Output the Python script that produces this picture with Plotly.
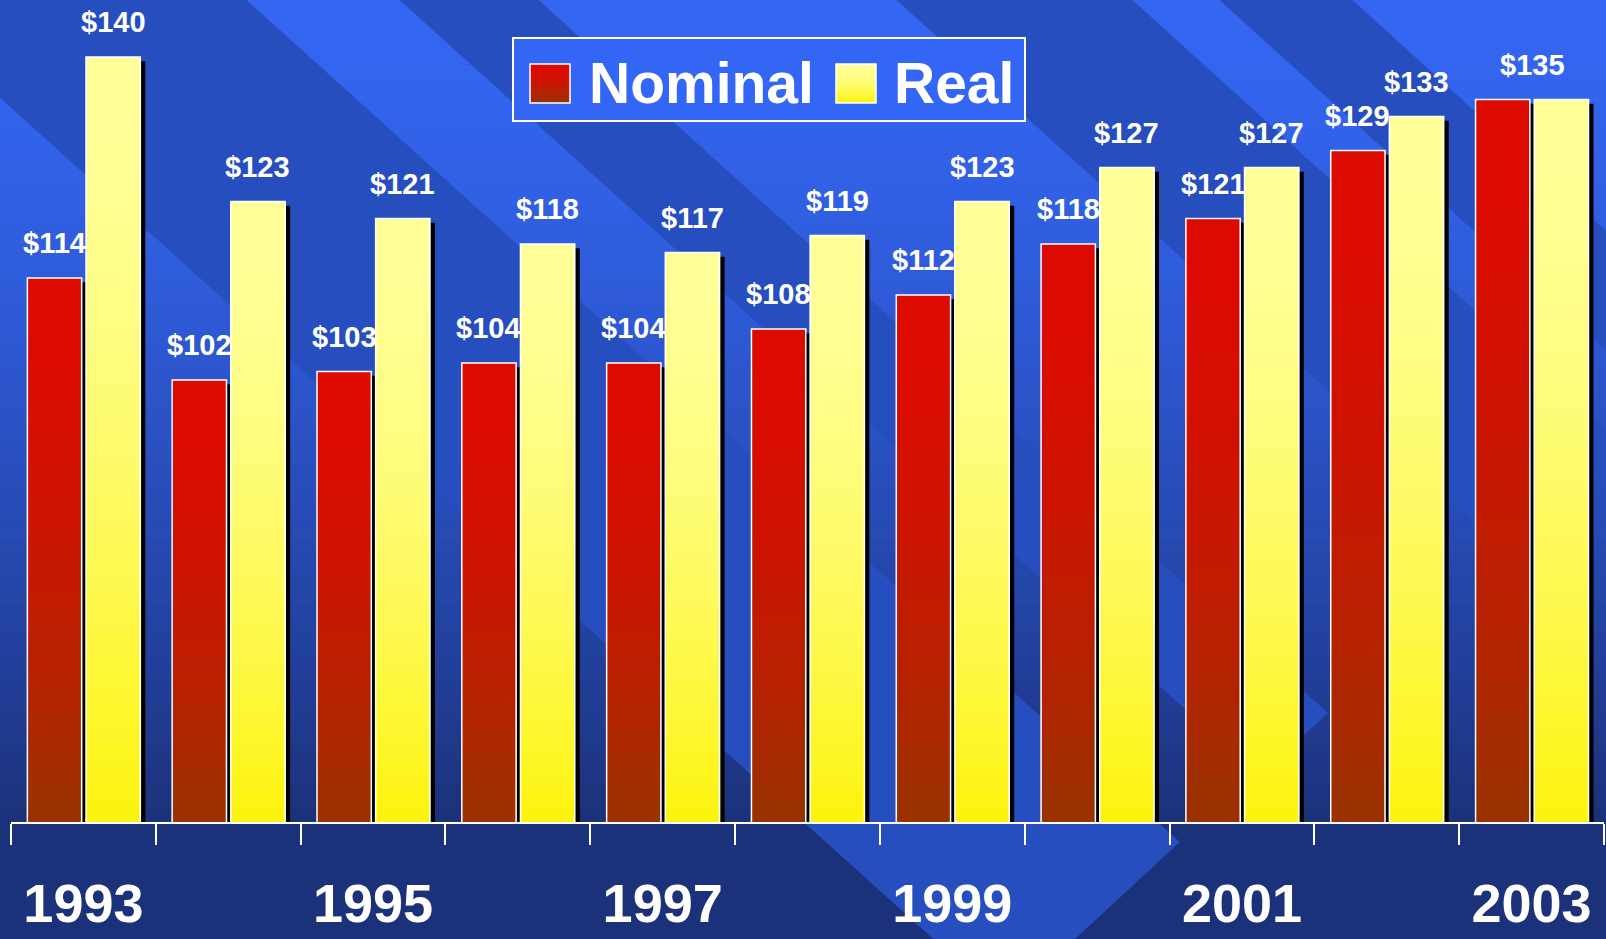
import plotly.graph_objects as go

# ---------------- data ----------------
years = [1993, 1994, 1995, 1996, 1997, 1998, 1999, 2000, 2001, 2002, 2003]
nominal = [114, 102, 103, 104, 104, 108, 112, 118, 121, 129, 135]
real = [140, 123, 121, 118, 117, 119, 123, 127, 127, 133, 135]
tick_years = [1993, 1995, 1997, 1999, 2001, 2003]
tick_labels = ["1993", "1995", "1997", "1999", "2001", "2003"]
series_names = ["Nominal", "Real"]

# ---------------- layout constants ----------------
W, H = 1606, 939
ML, MR, MT, MB = 11, 2, 0, 117
PW, PH = W - ML - MR, H - MT - MB
Y_MIN, Y_MAX = 50, 50 + PH / 8.5
FONT = "Liberation Sans, Arial, Helvetica, sans-serif"

BAR_W = 0.375
OFFSETS = {"Nominal": -0.387, "Real": 0.018}
GRAD = {
    "Nominal": ((221, 10, 0), (153, 51, 0)),
    "Real": ((255, 255, 153), (252, 243, 12)),
}
SH_DX, SH_DY = 0.0345, 0.5
K = 40


def lerp(c1, c2, f):
    return "rgb(%d,%d,%d)" % tuple(round(a + (b - a) * f) for a, b in zip(c1, c2))


def px(x):
    return (x - ML) / PW


def py(y):
    return (H - MB - y) / PH


def path(pts):
    return "M " + " L ".join(f"{px(x):.5f},{py(y):.5f}" for x, y in pts) + " Z"


shapes = []
# background: vertical gradient strips
NB = 64
topc, botc = (52, 102, 242), (27, 49, 121)
for i in range(NB):
    y0 = i * PH / NB
    y1 = (i + 1) * PH / NB + 0.6
    t = ((y0 + y1) / 2) / PH
    shapes.append(dict(type="rect", xref="paper", yref="paper", layer="below",
                       x0=-0.05, x1=1.05, y0=py(y1), y1=py(y0),
                       fillcolor=lerp(topc, botc, t ** 1.5), line=dict(width=0)))
# diagonal chevron bands
s, b = 1.115, 1.08
bands = [(-114, 241, 842), (394, 533, 713), (891, 1127, 449), (1214, 1347, 352)]
for xl, xr, yt in bands:
    tipx = xr + s * yt
    ym = (tipx + b * yt - xl) / (s + b)
    xm = xl + s * ym
    shapes.append(dict(type="path", xref="paper", yref="paper", layer="below",
                       path=path([(xl, -5), (xr, -5), (tipx, yt), (xm, ym)]),
                       fillcolor="#274EBF", line=dict(width=0)))

# legend box
shapes.append(dict(type="rect", xref="paper", yref="paper", layer="above",
                   x0=px(513), x1=px(1025), y0=py(121), y1=py(38),
                   fillcolor="#3366F5", line=dict(color="white", width=2)))
for name, (sx0, sx1) in zip(series_names, [(530, 570), (836, 876)]):
    sy0, sy1 = 64, 103
    n = 12
    for j in range(n):
        ya = sy0 + j * (sy1 - sy0) / n
        shapes.append(dict(type="rect", xref="paper", yref="paper", layer="above",
                           x0=px(sx0), x1=px(sx1), y0=py(sy1), y1=py(ya),
                           fillcolor=lerp(GRAD[name][0], GRAD[name][1], ((j + 0.5) / n) ** 1.7),
                           line=dict(width=0)))
    shapes.append(dict(type="rect", xref="paper", yref="paper", layer="above",
                       x0=px(sx0), x1=px(sx1), y0=py(sy1), y1=py(sy0),
                       fillcolor="rgba(0,0,0,0)", line=dict(color="white", width=1.5)))

fig = go.Figure()
data = {"Nominal": nominal, "Real": real}

# shadows
for name in series_names:
    vals = data[name]
    fig.add_trace(go.Bar(x=years, y=[v - SH_DY for v in vals], width=BAR_W,
                         offset=OFFSETS[name] + SH_DX, marker=dict(color="black", line=dict(width=0)),
                         showlegend=False, hoverinfo="skip"))
# gradient: each layer spans from its start up to the bar top (drawn bottom-first)
for name in series_names:
    vals = data[name]
    top, bot = GRAD[name]
    for k in range(K):
        frac = 1 - (k + 0.5) / K
        bases = [Y_MIN + (v - Y_MIN) * k / K for v in vals]
        fig.add_trace(go.Bar(x=years,
                             y=[v - bb for v, bb in zip(vals, bases)],
                             base=bases,
                             width=BAR_W, offset=OFFSETS[name],
                             marker=dict(color=lerp(top, bot, frac ** 1.7), line=dict(width=0)),
                             showlegend=False, hoverinfo="skip"))
# outlines (main series)
for name in series_names:
    fig.add_trace(go.Bar(x=years, y=data[name], name=name, width=BAR_W, offset=OFFSETS[name],
                         marker=dict(color="rgba(0,0,0,0)", line=dict(color="white", width=1.5)),
                         showlegend=False))

annotations = []
lab_font = dict(family=FONT, size=29, color="white", weight="bold")
for yr, vn, vr in zip(years, nominal, real):
    if vn == vr:
        annotations.append(dict(x=yr + (OFFSETS["Nominal"] + OFFSETS["Real"] + BAR_W) / 2, y=vr,
                                xref="x", yref="y", text=f"${vr}", showarrow=False,
                                yanchor="bottom", yshift=17, font=lab_font))
        continue
    for name, v in zip(series_names, [vn, vr]):
        annotations.append(dict(x=yr + OFFSETS[name] + BAR_W / 2, y=v, xref="x", yref="y",
                                text=f"${v}", showarrow=False, yanchor="bottom", yshift=17,
                                font=lab_font))
for name, x0 in zip(series_names, [587, 892]):
    annotations.append(dict(x=px(x0), y=py(82.5), xref="paper", yref="paper", text=name,
                            showarrow=False, xanchor="left", yanchor="middle",
                            font=dict(family=FONT, size=57, color="white", weight="bold")))

fig.update_layout(
    width=W, height=H,
    margin=dict(l=ML, r=MR, t=MT, b=MB, pad=0, autoexpand=False),
    paper_bgcolor="#1B3179", plot_bgcolor="rgba(0,0,0,0)",
    barmode="overlay", showlegend=False,
    shapes=shapes, annotations=annotations,
    xaxis=dict(range=[years[0] - 0.5, years[-1] + 0.5], tickmode="array",
               tickvals=tick_years, ticktext=tick_labels, ticks="", showgrid=False,
               zeroline=False, showline=True, linecolor="white", linewidth=2,
               automargin=False,
               tickfont=dict(family=FONT, size=54, color="white", weight="bold"),
               ticklabelstandoff=33,
               minor=dict(tickmode="array", tickvals=[y - 0.5 for y in years] + [years[-1] + 0.5],
                          ticks="outside", ticklen=21, tickwidth=2, tickcolor="white",
                          showgrid=False)),
    yaxis=dict(range=[Y_MIN, Y_MAX], visible=False, showgrid=False, zeroline=False,
               automargin=False),
)

fig.write_html("out.html", config={"displayModeBar": False},
               post_script="document.body.style.margin='0';document.body.style.overflow='hidden';")
